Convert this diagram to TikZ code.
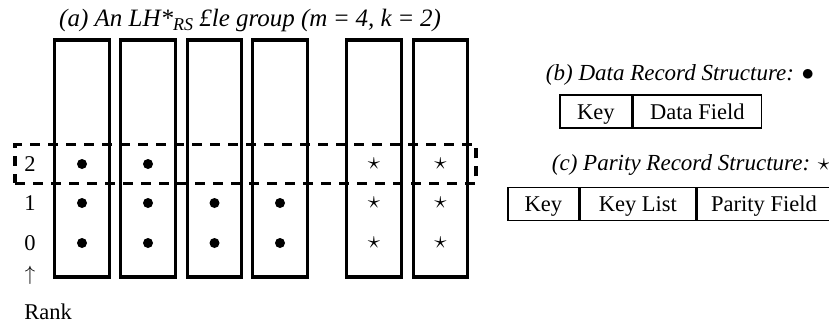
\documentclass[tikz,border=0pt]{standalone}
\usepackage{fontspec}
\setmainfont{Liberation Serif}
\newcommand{\mysp}{\hspace{0.28em}}
\begin{document}
\begin{tikzpicture}[x=1pt,y=-1pt,
  every node/.style={font=\fontsize{22.5}{27}\selectfont},
  bucket/.style={draw,line width=3.2pt,minimum width=54.5pt,minimum height=237pt,inner sep=0pt},
  rankrow/.style={draw,line width=3.2pt,dash pattern=on 10pt off 8pt,minimum width=461pt,minimum height=38.5pt,inner sep=0pt},
  dat/.style={circle,fill=black,minimum size=10pt,inner sep=0pt},
  par/.style={inner sep=0pt,font=\fontsize{30}{34}\selectfont},
  cell/.style={draw,line width=1.6pt,minimum height=33pt,inner sep=0pt,text height=18pt,text depth=3pt,anchor=west},
  ttl/.style={font=\fontsize{23}{27}\selectfont\itshape,inner sep=0pt}]
\useasboundingbox (0,0) rectangle (829,324);
% title (a)
\node[ttl,font=\fontsize{25}{29}\selectfont\itshape,anchor=base west] (ta) at (59,27) {(a) An LH*\raisebox{-0.13em}{\fontsize{18}{20}\selectfont RS} £le group (m\mysp\textup{=}\mysp 4, k\mysp\textup{=}\mysp 2)};
% buckets
\foreach \n/\x in {1/82,2/148,3/214.5,4/280,5/374,6/440.5}{
  \node[bucket] (c\n) at (\x,158.5) {};
}
% rank row
\node[rankrow] (rr) at (245.5,164) {};
% ranks
\node[inner sep=0pt] (r2) at (30,164) {2};
\node[inner sep=0pt] (r1) at (30,203) {1};
\node[inner sep=0pt] (r0) at (30,243) {0};
\node[inner sep=0pt] (ar) at (30,275) {$\uparrow$};
\node[inner sep=0pt] (rk) at (48,312) {Rank};
% data records
\foreach \n/\x in {1/82,2/148}{
  \node[dat] (d\n a) at (\x,164) {};
}
\foreach \n/\x in {1/82,2/148,3/214.5,4/280}{
  \node[dat] (d\n b) at (\x,203) {};
  \node[dat] (d\n c) at (\x,243) {};
}
% parity records
\foreach \n/\x in {5/374,6/440.5}{
  \node[par] (p\n a) at (\x,164) {$\star$};
  \node[par] (p\n b) at (\x,203) {$\star$};
  \node[par] (p\n c) at (\x,243) {$\star$};
}
% (b)
\node[ttl] (tb) at (680,75) {(b) Data Record Structure: $\bullet$};
\node[cell,minimum width=72pt] (bk) at (559,111.5) {Key};
\node[cell,minimum width=128pt] (bd) at (bk.east) {Data Field};
% (c)
\node[ttl] (tc) at (691,165) {(c) Parity Record Structure: $\star$};
\node[cell,minimum width=71pt] (ck) at (507,204) {Key};
\node[cell,minimum width=115pt] (cl) at (ck.east) {Key List};
\node[cell,minimum width=134pt] (cp) at (cl.east) {Parity Field};
\end{tikzpicture}
\end{document}
